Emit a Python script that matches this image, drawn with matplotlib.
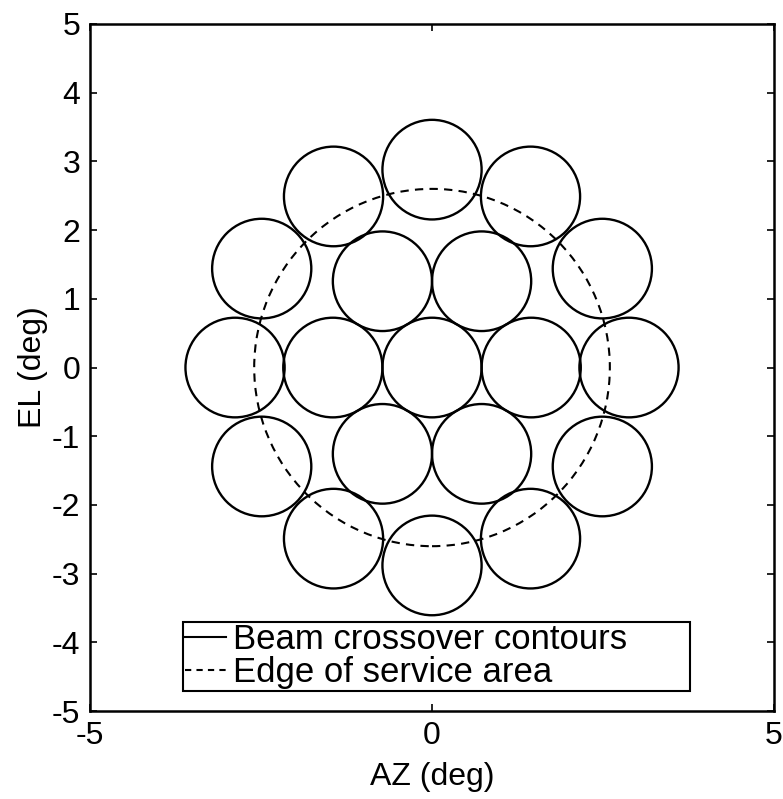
import matplotlib
matplotlib.use("Agg")
import matplotlib.pyplot as plt
from matplotlib.patches import Circle
from matplotlib.lines import Line2D

# beam centres (deg): centre beam, inner ring of 6, outer ring of 12
beam_az = [0.0,
           1.45, 0.725, -0.725, -1.45, -0.725, 0.725,
           2.88, 2.49, 1.44, 0.0, -1.44, -2.49, -2.88, -2.49, -1.44, 0.0, 1.44, 2.49]
beam_el = [0.0,
           0.0, 1.256, 1.256, 0.0, -1.256, -1.256,
           0.0, 1.44, 2.49, 2.88, 2.49, 1.44, 0.0, -1.44, -2.49, -2.88, -2.49, -1.44]
beam_radius = 0.725      # crossover contour radius (deg)
service_radius = 2.6     # edge of service area (deg)

ticks_x = [-5, 0, 5]
ticks_y = [-5, -4, -3, -2, -1, 0, 1, 2, 3, 4, 5]

plt.rcParams.update({"font.family": ["Liberation Sans", "DejaVu Sans"],
                     "font.size": 23, "axes.unicode_minus": False})

fig = plt.figure(figsize=(7.83, 7.99), dpi=100)
ax = fig.add_axes([0.115, 0.110, 0.8735, 0.860])

for az, el in zip(beam_az, beam_el):
    ax.add_patch(Circle((az, el), beam_radius, fill=False, ec="black", lw=1.7))
ax.add_patch(Circle((0, 0), service_radius, fill=False, ec="black", lw=1.5,
                    ls=(0, (4, 3))))

ax.set_xlim(-5, 5)
ax.set_ylim(-5, 5)
ax.set_xticks(ticks_x)
ax.set_yticks(ticks_y)
ax.tick_params(direction="in", length=5, width=1.2, top=True, right=True, pad=7)
for sp in ax.spines.values():
    sp.set_linewidth(1.8)
ax.set_xlabel("AZ (deg)", labelpad=8)
ax.set_ylabel("EL (deg)", labelpad=3)

h = [Line2D([0], [0], color="black", lw=1.5, label="Beam crossover contours"),
     Line2D([0], [0], color="black", lw=1.5, ls=(0, (3, 2.5)), label="Edge of service area")]
# box stretched wider than its text, entries kept to the left
leg = ax.legend(handles=h, loc="lower left", bbox_to_anchor=(0.136, 0.029, 0.741, 0.1),
                mode="expand", borderaxespad=0,
                fancybox=False, framealpha=1, edgecolor="black", handlelength=1.2,
                handletextpad=0.2, borderpad=0.05, labelspacing=0.0, fontsize=25)
leg.get_frame().set_linewidth(1.5)

fig.savefig("out.png", dpi=100)
